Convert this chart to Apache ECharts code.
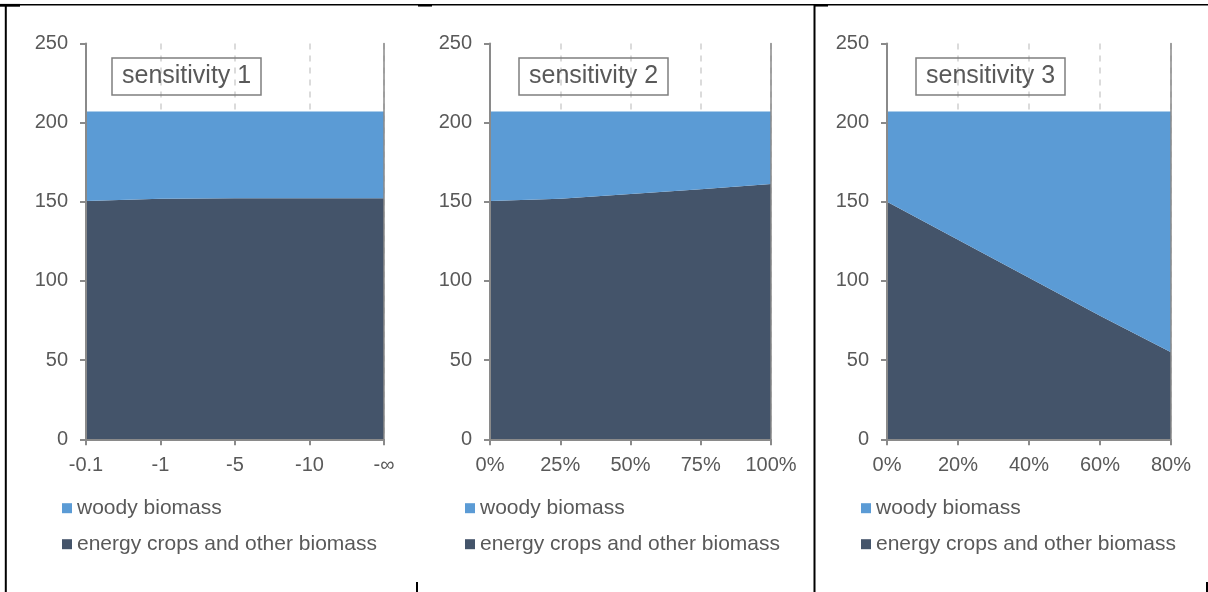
<!DOCTYPE html>
<html>
<head>
<meta charset="utf-8">
<script src="https://cdn.jsdelivr.net/npm/echarts@6/dist/echarts.min.js"></script>
<style>
html,body{margin:0;padding:0;background:#fff;}
#chart{width:1208px;height:592px;}
</style>
</head>
<body>
<div id="chart"></div>
<script>
// ---- data ----
const cats1 = ['-0.1', '-1', '-5', '-10', '-∞'];
const cats2 = ['0%', '25%', '50%', '75%', '100%'];
const cats3 = ['0%', '20%', '40%', '60%', '80%'];

const energy1 = [150.5, 152, 152.3, 152.3, 152.3];
const woody1  = [56.5, 55, 54.7, 54.7, 54.7];

const energy2 = [150.5, 152, 155, 158, 161.3];
const woody2  = [56.5, 55, 52, 49, 45.7];

const energy3 = [150, 126, 102, 78, 55];
const woody3  = [57, 81, 105, 129, 152];

const titles = ['sensitivity 1', 'sensitivity 2', 'sensitivity 3'];
const seriesNames = ['woody biomass', 'energy crops and other biomass'];
const yTicks = { min: 0, max: 250, interval: 50 };

// ---- styling / layout ----
const FONT = "'Liberation Sans', Arial, sans-serif";
const TXT = '#595959';
const AX = '#8a8a8a';
const WOODY = '#5B9BD5';
const ENERGY = '#44546A';

const panels = [
  { cats: cats1, energy: energy1, woody: woody1, left: 86,  right: 824, titleLeft: 112, legendLeft: 62 },
  { cats: cats2, energy: energy2, woody: woody2, left: 490, right: 437, titleLeft: 519, legendLeft: 465 },
  { cats: cats3, energy: energy3, woody: woody3, left: 887, right: 37,  titleLeft: 916, legendLeft: 861 }
];

const grid = [], xAxis = [], yAxis = [], series = [], title = [], legend = [];

panels.forEach((p, i) => {
  grid.push({ left: p.left, right: p.right, top: 43.5, bottom: 152.7, containLabel: false });

  // bottom axis: line, ticks, labels (drawn above areas)
  xAxis.push({
    type: 'category', gridIndex: i, position: 'bottom', data: p.cats, boundaryGap: false, z: 5,
    axisLine: { show: true, lineStyle: { color: AX, width: 2 } },
    axisTick: { show: true, inside: false, length: 6, lineStyle: { color: AX, width: 2 } },
    axisLabel: { show: true, color: TXT, fontSize: 20, fontFamily: FONT, margin: 16, interval: 0 },
    splitLine: { show: false }
  });
  // top axis: plot border + dashed grid lines (below areas)
  xAxis.push({
    type: 'category', gridIndex: i, position: 'top', data: p.cats, boundaryGap: false, z: 0,
    axisLine: { show: true, lineStyle: { color: AX, width: 1.5 } },
    axisTick: { show: false }, axisLabel: { show: false },
    splitLine: { show: true, interval: 0, lineStyle: { color: '#d0d0d0', width: 1.5, type: [6, 6] } }
  });
  yAxis.push({
    type: 'value', gridIndex: i, position: 'left', min: yTicks.min, max: yTicks.max, interval: yTicks.interval, z: 5,
    axisLine: { show: true, lineStyle: { color: AX, width: 2 } },
    axisTick: { show: true, inside: false, length: 6, lineStyle: { color: AX, width: 2 } },
    axisLabel: { show: true, color: TXT, fontSize: 20, fontFamily: FONT, margin: 18 },
    splitLine: { show: false }
  });
  yAxis.push({
    type: 'value', gridIndex: i, position: 'right', min: yTicks.min, max: yTicks.max, interval: yTicks.interval, z: 5,
    axisLine: { show: true, lineStyle: { color: AX, width: 1.5 } },
    axisTick: { show: false }, axisLabel: { show: false }, splitLine: { show: false }
  });

  const common = {
    type: 'line', stack: 'total' + i, xAxisIndex: i * 2, yAxisIndex: i * 2,
    showSymbol: false, symbol: 'none', smooth: false, silent: true, z: 2,
    lineStyle: { width: 0 }
  };
  series.push(Object.assign({}, common, {
    name: seriesNames[1], data: p.energy,
    itemStyle: { color: ENERGY }, areaStyle: { color: ENERGY, opacity: 1 }
  }));
  series.push(Object.assign({}, common, {
    name: seriesNames[0], data: p.woody,
    itemStyle: { color: WOODY }, areaStyle: { color: WOODY, opacity: 1 }
  }));

  title.push({
    text: titles[i], left: p.titleLeft, top: 58,
    borderColor: '#7f7f7f', borderWidth: 1.5, padding: [5, 10, 5, 10],
    textStyle: { color: TXT, fontSize: 25, fontWeight: 'normal', fontFamily: FONT, lineHeight: 27 }
  });

  legend.push({
    orient: 'vertical', left: p.legendLeft, top: 497.7, padding: 0,
    data: [seriesNames[0], seriesNames[1]],
    icon: 'rect', itemWidth: 10, itemHeight: 10, itemGap: 15,
    selectedMode: false,
    textStyle: { color: TXT, fontSize: 21, fontFamily: FONT, lineHeight: 20 }
  });
});

// decorative frame lines (cropped page borders in the reference)
function ln(x1, y1, x2, y2, w) {
  return { type: 'line', silent: true, z: 100,
    shape: { x1: x1, y1: y1, x2: x2, y2: y2 },
    style: { stroke: '#000', lineWidth: w } };
}
const graphic = [
  ln(5, 4.7, 1208, 4.7, 1.5),
  ln(0, 5.3, 20, 5.3, 2.8),
  ln(418, 5.3, 432, 5.3, 2.5),
  ln(814, 5.3, 828, 5.3, 2.5),
  ln(5.8, 4, 5.8, 592, 2),
  ln(814.5, 4, 814.5, 592, 2),
  ln(417, 582, 417, 592, 2),
  ln(1207, 582, 1207, 592, 2)
];

const chart = echarts.init(document.getElementById('chart'), null, { renderer: 'canvas' });
chart.setOption({
  animation: false,
  backgroundColor: '#ffffff',
  textStyle: { fontFamily: FONT },
  title: title,
  legend: legend,
  grid: grid,
  xAxis: xAxis,
  yAxis: yAxis,
  series: series,
  graphic: graphic
});
</script>
</body>
</html>
